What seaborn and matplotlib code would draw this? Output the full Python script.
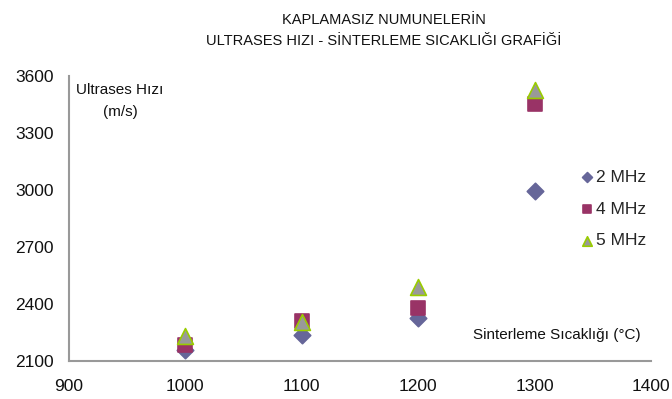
import matplotlib
matplotlib.use("Agg")
import matplotlib.pyplot as plt
import seaborn as sns
import pandas as pd

# Sintering temperature (°C) and ultrasonic velocity (m/s) per frequency
temperatures = [1000, 1100, 1200, 1300]
velocity_2mhz = [2160, 2237, 2325, 2996]
velocity_4mhz = [2185, 2312, 2378, 3455]
velocity_5mhz = [2230, 2307, 2488, 3528]
series_names = ["2 MHz", "4 MHz", "5 MHz"]

x_ticks = [900, 1000, 1100, 1200, 1300, 1400]
y_ticks = [2100, 2400, 2700, 3000, 3300, 3600]

title_text = "KAPLAMASIZ NUMUNELERİN\nULTRASES HIZI - SİNTERLEME SICAKLIĞI GRAFİĞİ"
y_label = "Ultrases Hızı\n(m/s)"
x_label = "Sinterleme Sıcaklığı (°C)"

sns.set_theme(style="white")
plt.rcParams["font.family"] = ["Liberation Sans", "DejaVu Sans"]

df = pd.DataFrame({
    "temp": temperatures * 3,
    "vel": velocity_2mhz + velocity_4mhz + velocity_5mhz,
    "freq": [s for s in series_names for _ in temperatures],
})

fig = plt.figure(figsize=(6.72, 3.99), dpi=100)
ax = fig.add_axes([0.1027, 0.0952, 0.866, 0.7143])

styles = {
    "2 MHz": dict(marker="D", color="#666699", edgecolor="#666699", s=70),
    "4 MHz": dict(marker="s", color="#993366", edgecolor="#993366", s=110),
    "5 MHz": dict(marker="^", color="#999999", edgecolor="#99CC00", s=130),
}
for name in series_names:
    sub = df[df["freq"] == name]
    st = styles[name]
    sns.scatterplot(data=sub, x="temp", y="vel", ax=ax, marker=st["marker"],
                    color=st["color"], edgecolor=st["edgecolor"], linewidth=1.2,
                    s=st["s"], label=name, zorder=3)

ax.set_xlim(900, 1400)
ax.set_ylim(2100, 3600)
ax.set_xticks(x_ticks)
ax.set_yticks(y_ticks)
ax.tick_params(axis="both", length=0, labelsize=12.5, colors="#111111")
ax.tick_params(axis="x", pad=13)
ax.tick_params(axis="y", pad=11)
ax.set_xlabel("")
ax.set_ylabel("")
for side in ["top", "right"]:
    ax.spines[side].set_visible(False)
for side in ["left", "bottom"]:
    ax.spines[side].set_color("#999999")
    ax.spines[side].set_linewidth(1.5)

fig.text(0.571, 0.968, title_text, ha="center", va="top", fontsize=10.5,
         family=["Liberation Sans Narrow", "Liberation Sans", "DejaVu Sans"],
         linespacing=1.7, color="#111111")

ax.text(0.012, 0.975, "Ultrases Hızı", transform=ax.transAxes, ha="left", va="top",
        fontsize=11, color="#111111")
ax.text(0.088, 0.898, "(m/s)", transform=ax.transAxes, ha="center", va="top",
        fontsize=11, color="#111111")
ax.text(0.983, 0.09, x_label, transform=ax.transAxes, ha="right", va="center",
        fontsize=11, color="#111111")

leg = ax.legend(loc="upper left", bbox_to_anchor=(0.863, 0.695), frameon=False,
                fontsize=12.5, handletextpad=0.05, labelspacing=0.95,
                markerscale=0.6, borderaxespad=0, handlelength=1.0)

fig.savefig("out.png", dpi=100)
